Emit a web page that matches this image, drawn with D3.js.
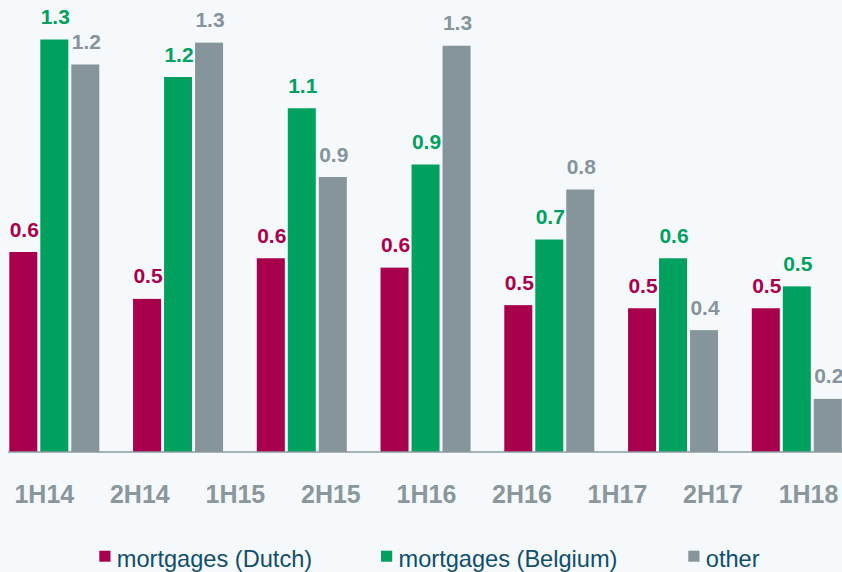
<!DOCTYPE html>
<html>
<head>
<meta charset="utf-8">
<script src="https://cdn.jsdelivr.net/npm/d3@7"></script>
<style>
  html, body { margin: 0; padding: 0; background: #f6f9fb; }
  svg { display: block; font-family: Arial, "Liberation Sans", sans-serif; }
</style>
</head>
<body>
<div id="chart"></div>
<script>
const periods = ['1H14', '2H14', '1H15', '2H15', '1H16', '2H16', '1H17', '2H17', '1H18']
const series = ['mortgages (Dutch)', 'mortgages (Belgium)', 'other']
const colors = ['#a8004d', '#00a15f', '#86949b']

// one entry per bar group (7 groups drawn)
const dutch = [0.64, 0.49, 0.62, 0.59, 0.47, 0.46, 0.46]
const belgium = [1.32, 1.20, 1.10, 0.92, 0.68, 0.62, 0.53]
const other = [1.24, 1.31, 0.88, 1.30, 0.84, 0.39, 0.17]

const W = 842
const H = 572
const baseY = 452

const svg = d3.select('#chart').append('svg').attr('width', W).attr('height', H)

const groups = d3.range(dutch.length)
const values = [dutch, belgium, other]

// 比例尺
const x0 = d3.scaleBand().domain(groups).range([9.3, 841.8]).paddingInner(0.2727).paddingOuter(0)
const x1 = d3.scaleBand().domain(d3.range(series.length)).range([0, x0.bandwidth()]).paddingInner(0.097)
const y = d3.scaleLinear().domain([0, 1.44]).range([baseY, baseY - 1.44 * 312.5])
const fmt = d3.format('.1f')

const barData = []
groups.forEach(g => {
  values.forEach((vals, s) => barData.push({ g, s, v: vals[g] }))
})

const gBars = svg.append('g').attr('class', 'bars')
gBars
  .selectAll('rect.bar')
  .data(barData)
  .join('rect')
  .attr('class', 'bar')
  .attr('x', d => x0(d.g) + x1(d.s))
  .attr('y', d => y(d.v))
  .attr('width', x1.bandwidth())
  .attr('height', d => baseY - y(d.v))
  .attr('fill', d => colors[d.s])

// 数值标签
gBars
  .selectAll('text.value')
  .data(barData)
  .join('text')
  .attr('class', 'value')
  .attr('x', d => x0(d.g) + x1(d.s) + x1.bandwidth() / 2 + 1)
  .attr('y', d => y(d.v) - 15.5)
  .attr('text-anchor', 'middle')
  .attr('font-size', 21)
  .attr('font-weight', 'bold')
  .attr('fill', d => colors[d.s])
  .text(d => fmt(d.v))

// baseline
svg
  .append('line')
  .attr('x1', 8)
  .attr('x2', W)
  .attr('y1', baseY)
  .attr('y2', baseY)
  .attr('stroke', '#8d9aa1')
  .attr('stroke-width', 1.5)

// x 轴标签
const xLabels = d3.scalePoint().domain(periods).range([43.8, 808])
const xAxisG = svg
  .append('g')
  .attr('class', 'x axis')
  .attr('transform', `translate(0,${baseY})`)
  .call(d3.axisBottom(xLabels).tickSize(0).tickPadding(33))
xAxisG.select('.domain').remove()
xAxisG
  .selectAll('text')
  .attr('font-size', 25)
  .attr('font-weight', 'bold')
  .attr('font-family', 'Arial, "Liberation Sans", sans-serif')
  .attr('fill', '#8a979d')

// legend
const legendX = [99.3, 381, 688.3]
const legend = svg
  .append('g')
  .attr('class', 'legend')
  .selectAll('g')
  .data(series)
  .join('g')
  .attr('transform', (d, i) => `translate(${legendX[i]},0)`)
legend
  .append('rect')
  .attr('x', 0)
  .attr('y', 550.7)
  .attr('width', 11.2)
  .attr('height', 11)
  .attr('fill', (d, i) => colors[i])
legend
  .append('text')
  .attr('x', 17.5)
  .attr('y', 566.8)
  .attr('font-size', 23.6)
  .attr('fill', '#104e6b')
  .text(d => d)
</script>
</body>
</html>
